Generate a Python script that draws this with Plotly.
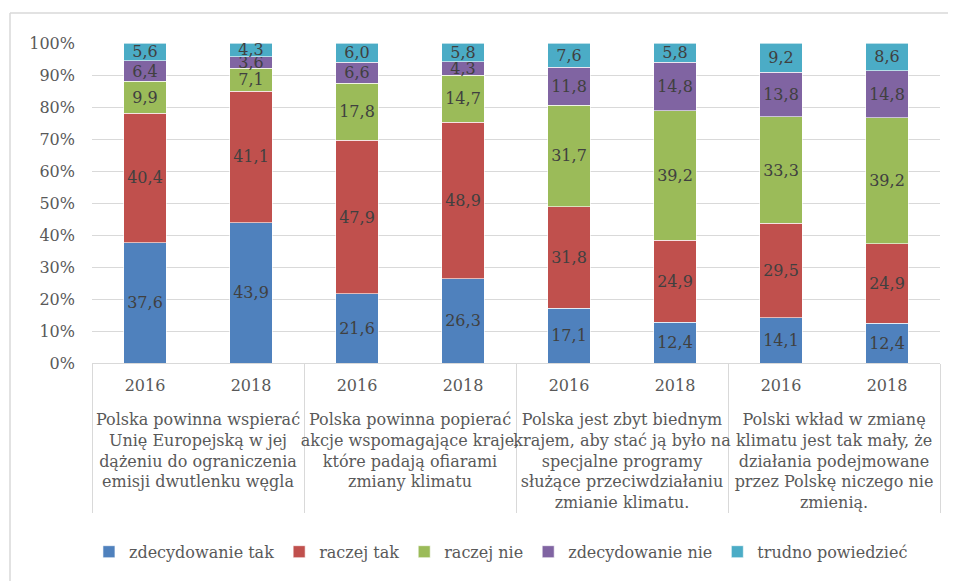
import plotly.graph_objects as go

groups = [
    "Polska powinna wspierać<br>Unię Europejską w jej<br>dążeniu do ograniczenia<br>emisji dwutlenku węgla",
    "Polska powinna popierać<br>akcje wspomagające kraje,<br>które padają ofiarami<br>zmiany klimatu",
    "Polska jest zbyt biednym<br>krajem, aby stać ją było na<br>specjalne programy<br>służące przeciwdziałaniu<br>zmianie klimatu.",
    "Polski wkład w zmianę<br>klimatu jest tak mały, że<br>działania podejmowane<br>przez Polskę niczego nie<br>zmienią.",
]
years = ["2016", "2018"]

series_names = ["zdecydowanie tak", "raczej tak", "raczej nie", "zdecydowanie nie", "trudno powiedzieć"]
zdecydowanie_tak = [37.6, 43.9, 21.6, 26.3, 17.1, 12.4, 14.1, 12.4]
raczej_tak = [40.4, 41.1, 47.9, 48.9, 31.8, 24.9, 29.5, 24.9]
raczej_nie = [9.9, 7.1, 17.8, 14.7, 31.7, 39.2, 33.3, 39.2]
zdecydowanie_nie = [6.4, 3.6, 6.6, 4.3, 11.8, 14.8, 13.8, 14.8]
trudno_powiedziec = [5.6, 4.3, 6.0, 5.8, 7.6, 5.8, 9.2, 8.6]
colors = ["#4F81BD", "#C0504D", "#9BBB59", "#8064A2", "#4BACC6"]

# leading line break gives the gap between year labels and group labels
outer = ["<br>" + g for g in groups for _ in years]
inner = [y for _ in groups for y in years]

FONT = "DejaVu Serif"
fig = go.Figure()
for name, vals, col in zip(series_names,
                           [zdecydowanie_tak, raczej_tak, raczej_nie, zdecydowanie_nie, trudno_powiedziec],
                           colors):
    fig.add_trace(go.Bar(
        x=[outer, inner], y=vals, name=name,
        marker=dict(color=col, line=dict(color="rgba(255,255,255,0.6)", width=1)),
        text=[f"{v:.1f}".replace(".", ",") for v in vals],
        textposition="inside", insidetextanchor="middle", textangle=0,
        textfont=dict(family=FONT, size=16, color="#404040"),
        hoverinfo="skip",
    ))

fig.update_layout(
    barmode="stack", barnorm="percent", bargap=0.6,
    width=948, height=573,
    margin=dict(l=84, r=16, t=35, b=218, autoexpand=False),
    plot_bgcolor="white", paper_bgcolor="white",
    font=dict(family=FONT, size=16, color="#595959"),
    uniformtext=dict(minsize=16, mode="show"),
    showlegend=True,
    legend=dict(orientation="h", xref="container", x=0.52, xanchor="center",
                y=-0.59, yanchor="middle",
                font=dict(family=FONT, size=16, color="#595959"),
                itemwidth=30, traceorder="normal"),
    xaxis=dict(type="multicategory", showline=True, linecolor="#D9D9D9",
               showdividers=True, dividercolor="#D9D9D9", dividerwidth=1,
               ticks="", ticklabelstandoff=8,
               tickangle=0,
               tickfont=dict(family=FONT, size=16, color="#595959")),
    yaxis=dict(range=[0, 100], dtick=10, ticksuffix="%", showgrid=True,
               gridcolor="#D9D9D9", gridwidth=1, zeroline=False, showline=False,
               ticklabelstandoff=16,
               tickfont=dict(family=FONT, size=16, color="#595959")),
    shapes=[
        dict(type="line", xref="paper", yref="paper", x0=(10 - 92) / 848, x1=1.1,
             y0=(363 - 13) / 320, y1=(363 - 13) / 320, line=dict(color="#D9D9D9", width=1.5)),
        dict(type="line", xref="paper", yref="paper", x0=(10 - 92) / 848, x1=(10 - 92) / 848,
             y0=(363 - 13) / 320, y1=-1.0, line=dict(color="#D9D9D9", width=1.5)),
    ],
)

fig.write_html("out.html")
